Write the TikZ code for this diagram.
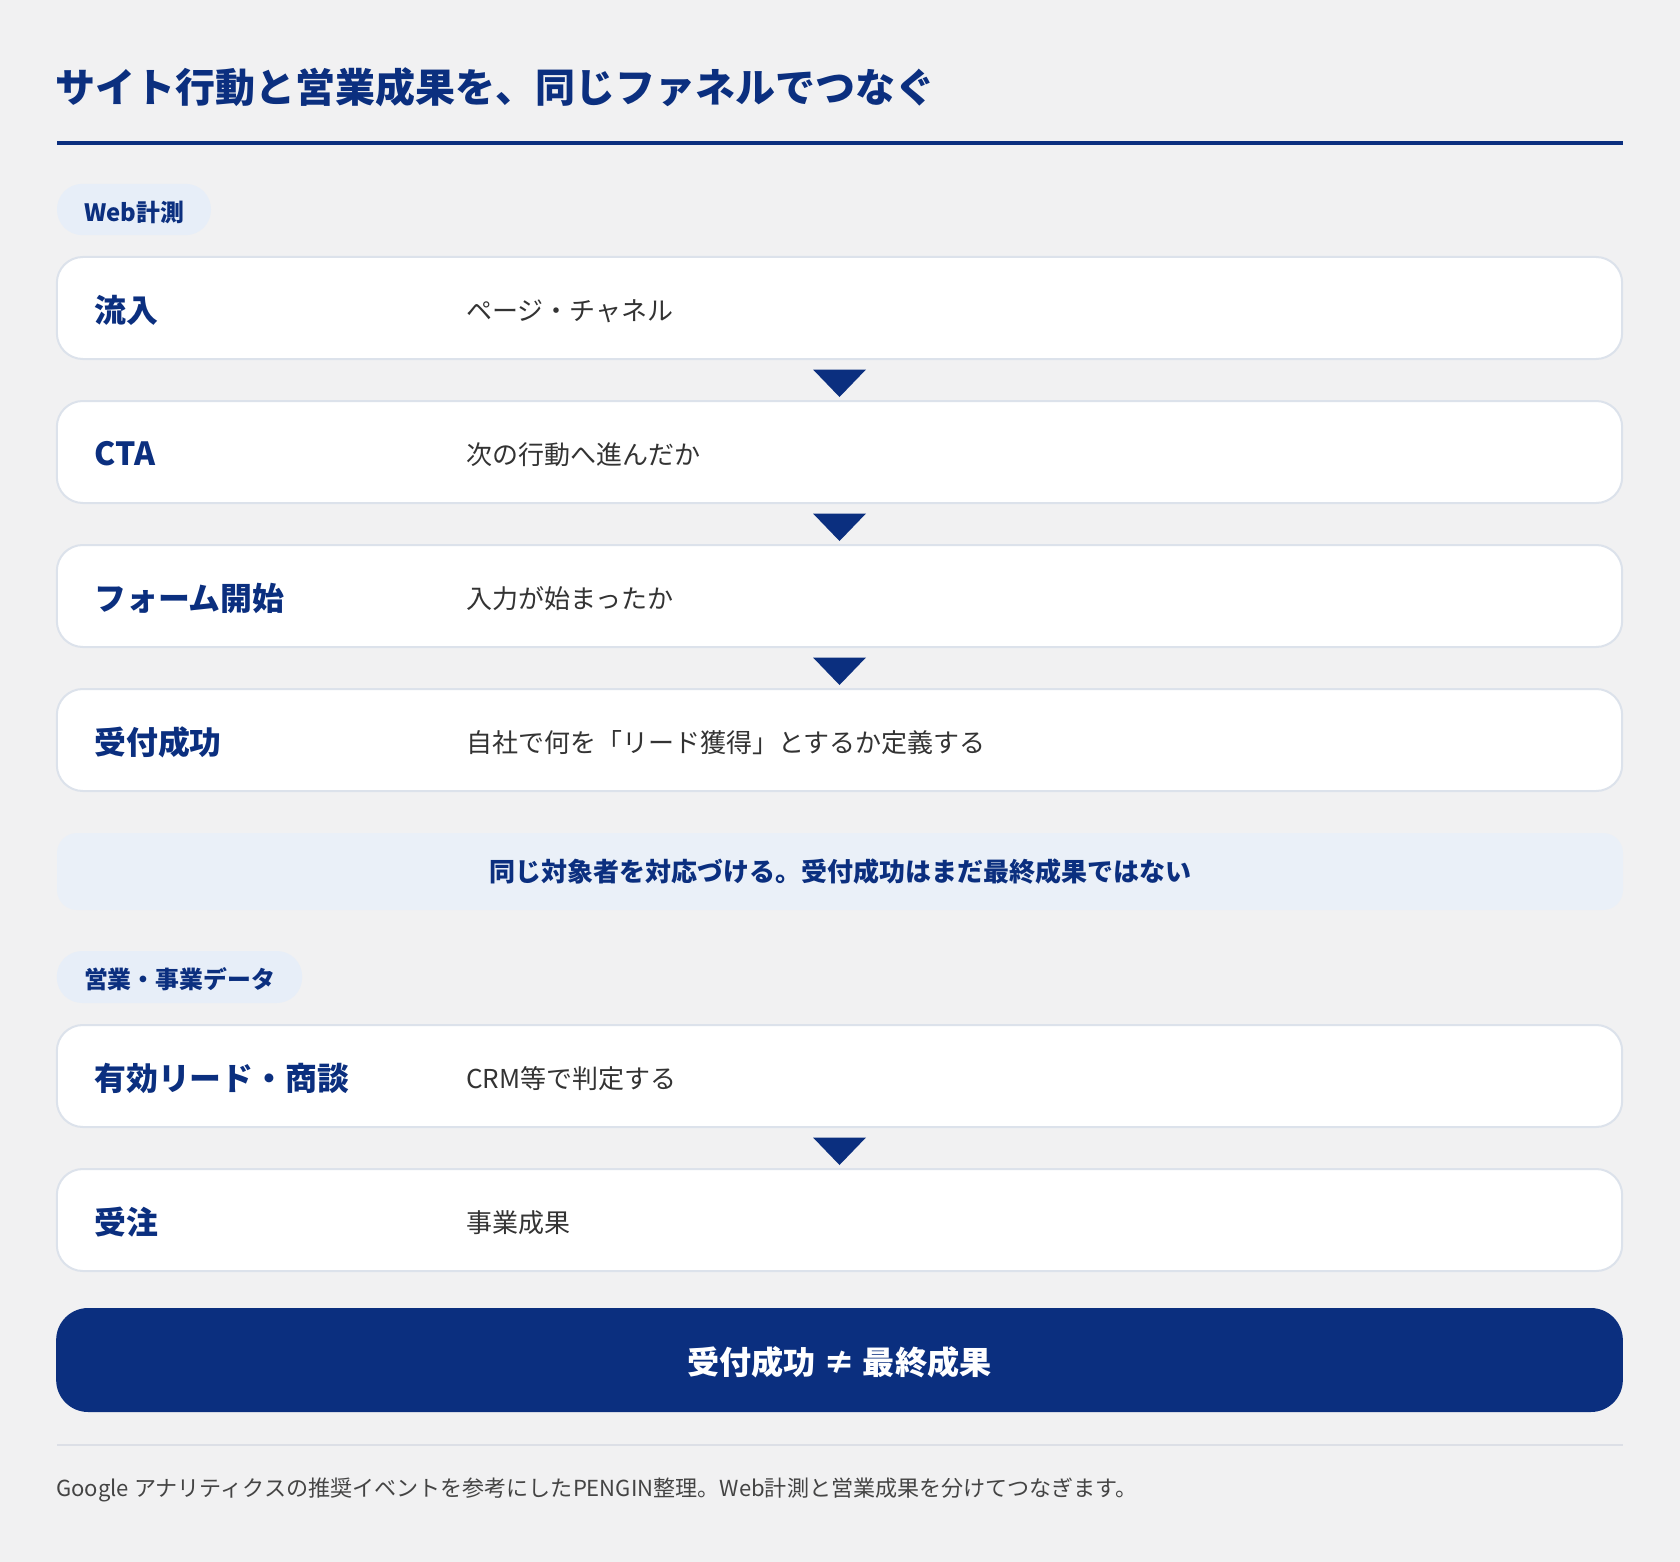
\documentclass[tikz,border=0pt]{standalone}
\usepackage{fontspec}
\setmainfont{Noto Sans CJK JP}
\usetikzlibrary{calc}
\definecolor{bg}{HTML}{F1F1F2}
\definecolor{navy}{HTML}{0B2F7F}
\definecolor{pillfill}{HTML}{E7EEF8}
\definecolor{notefill}{HTML}{EAF0F8}
\definecolor{boxborder}{HTML}{DCE2EB}
\definecolor{desctext}{HTML}{333333}
\definecolor{foottext}{HTML}{444444}
\definecolor{sepline}{HTML}{DCDFE6}
\tikzset{
  stagebox/.style={draw=boxborder, line width=1.5pt, fill=white, rounded corners=19.5pt,
    minimum width=1174pt, minimum height=76.5pt, inner sep=0pt},
  lbl/.style={anchor=west, inner sep=0pt, text=navy, font=\fontsize{23.9pt}{28pt}\selectfont\bfseries},
  desc/.style={anchor=west, inner sep=0pt, text=desctext, font=\fontsize{19.5pt}{24pt}\selectfont},
  pill/.style={fill=pillfill, rounded corners=19pt, inner sep=0pt},
  pilltext/.style={inner sep=0pt, text=navy, font=\fontsize{17.9pt}{21pt}\selectfont\bfseries},
  tri/.style={fill=navy},
}
\begin{document}
\begin{tikzpicture}[x=0.75pt,y=-0.75pt]
\useasboundingbox (0,0) rectangle (1680,1562);
\fill[bg] (0,0) rectangle (1680,1562);

% title
\node[anchor=west, inner sep=0pt, text=navy, font=\fontsize{30pt}{36pt}\selectfont\bfseries] (title) at (55,87) {サイト行動と営業成果を、同じファネルでつなぐ};
\coordinate (r1) at (57,143.5);
\coordinate (r2) at (1623,143.5);
\draw[navy, line width=3pt] (r1) -- (r2);

% pill 1
\node[pill, minimum width=115.5pt, minimum height=38.5pt] (p1) at (134,209.5) {};
\node[pilltext] (p1t) at (134,212) {Web計測};

% boxes
\node[stagebox] (b1) at (839.5,308) {};
\node[stagebox] (b2) at (839.5,452) {};
\node[stagebox] (b3) at (839.5,596) {};
\node[stagebox] (b4) at (839.5,740) {};

\node[lbl] (l1) at (94,310) {流入};
\node[desc] (d1) at (466,311) {ページ・チャネル};
\node[lbl] (l2) at (94,454) {CTA};
\node[desc] (d2) at (466,455) {次の行動へ進んだか};
\node[lbl] (l3) at (94,598) {フォーム開始};
\node[desc] (d3) at (466,599) {入力が始まったか};
\node[lbl] (l4) at (94,742) {受付成功};
\node[desc] (d4) at (466,743) {自社で何を「リード獲得」とするか定義する};

\foreach \b in {b1,b2,b3}{
  \fill[tri] ($(\b.south)+(-26.5,9.5)$) -- ($(\b.south)+(26.5,9.5)$) -- ($(\b.south)+(0,37)$) -- cycle;
}

% note band
\node[fill=notefill, rounded corners=15pt, minimum width=1174.5pt, minimum height=57.75pt, inner sep=0pt,
  text=navy, font=\fontsize{19.5pt}{24pt}\selectfont\bfseries] (note) at (840,871.5) {同じ対象者を対応づける。受付成功はまだ最終成果ではない};

% pill 2
\node[pill, minimum width=184pt, minimum height=39pt] (p2) at (179.5,977) {};
\node[pilltext] (p2t) at (179.5,979.5) {営業・事業データ};

\node[stagebox] (b5) at (839.5,1076) {};
\node[stagebox] (b6) at (839.5,1220) {};
\node[lbl] (l5) at (94,1078) {有効リード・商談};
\node[desc] (d5) at (466,1079) {CRM等で判定する};
\node[lbl] (l6) at (94,1222) {受注};
\node[desc] (d6) at (466,1223) {事業成果};
\fill[tri] ($(b5.south)+(-26.5,9.5)$) -- ($(b5.south)+(26.5,9.5)$) -- ($(b5.south)+(0,37)$) -- cycle;

% button
\node[fill=navy, rounded corners=24pt, minimum width=1175pt, minimum height=78pt, inner sep=0pt] (btn) at (839.5,1360) {};
\node[inner sep=0pt, text=white, font=\fontsize{24.1pt}{28pt}\selectfont\bfseries] (btnt) at (839.5,1362.5) {受付成功 ≠ 最終成果};

% separator
\coordinate (s1) at (57,1445);
\coordinate (s2) at (1623,1445);
\draw[sepline, line width=1.5pt] (s1) -- (s2);

% footer
\node[anchor=west, inner sep=0pt, text=foottext, font=\fontsize{16.55pt}{20pt}\selectfont] (foot) at (56,1490) {Google アナリティクスの推奨イベントを参考にしたPENGIN整理。Web計測と営業成果を分けてつなぎます。};
\end{tikzpicture}
\end{document}
